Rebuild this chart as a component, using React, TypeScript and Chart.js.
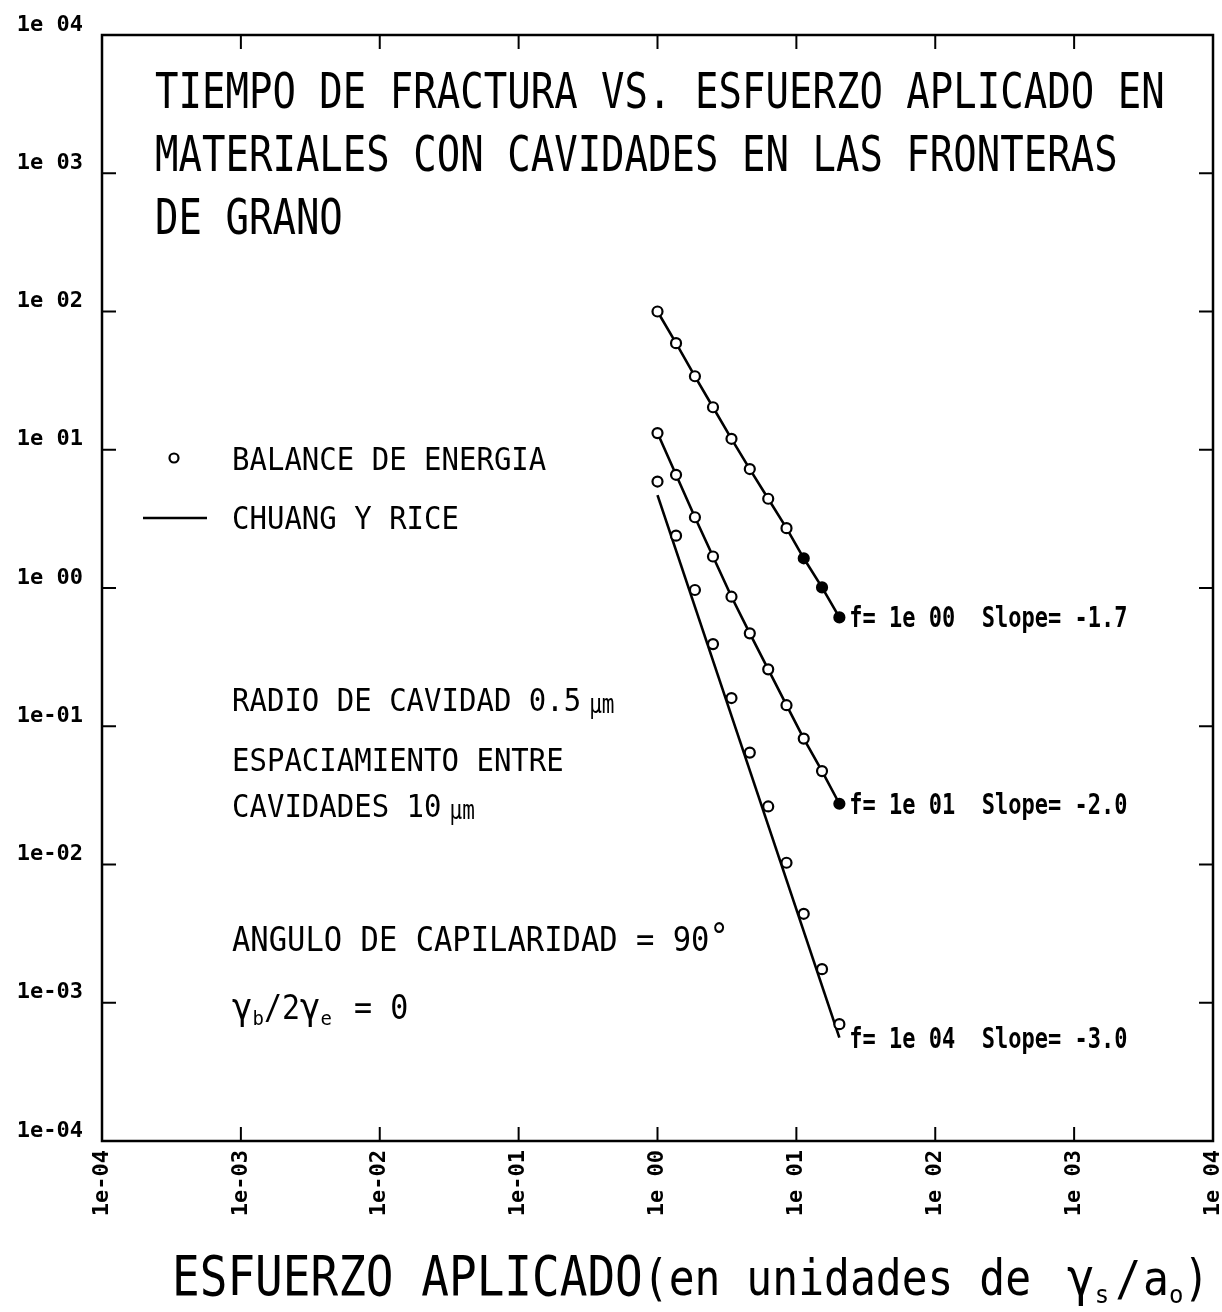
import React, { useEffect, useRef } from 'react';
import { Chart, registerables } from 'chart.js';

Chart.register(...registerables);

// ---------------- data ----------------
const xTickValues = [1e-4, 1e-3, 1e-2, 1e-1, 1, 1e1, 1e2, 1e3, 1e4];
const xTickLabels = ['1e-04', '1e-03', '1e-02', '1e-01', '1e 00', '1e 01', '1e 02', '1e 03', '1e 04'];
const yTickValues = [1e-4, 1e-3, 1e-2, 1e-1, 1, 1e1, 1e2, 1e3, 1e4];
const yTickLabels = ['1e-04', '1e-03', '1e-02', '1e-01', '1e 00', '1e 01', '1e 02', '1e 03', '1e 04'];

// applied stress (units of gamma_s / a_o)
const stress = [1.0, 1.36, 1.86, 2.51, 3.41, 4.62, 6.27, 8.49, 11.3, 15.3, 20.4];

// BALANCE DE ENERGIA (circles): fracture time
const energyBalanceF1 = [100, 59, 34, 20.3, 12.0, 7.25, 4.42, 2.71, 1.64, 1.01, 0.613];
const energyBalanceF10 = [13.2, 6.59, 3.25, 1.69, 0.865, 0.47, 0.258, 0.142, 0.0814, 0.0474, 0.0275];
const energyBalanceF1e4 = [5.89, 2.39, 0.967, 0.393, 0.16, 0.0645, 0.0263, 0.0103, 0.0044, 0.00175, 0.0007];

// CHUANG Y RICE (lines)
const chuangRiceStressF1 = [1.0, 1.36, 1.86, 2.51, 3.41, 4.62, 6.27, 8.49, 11.3, 15.3, 20.4];
const chuangRiceF1 = [100, 59, 34, 20.3, 12.0, 7.25, 4.42, 2.71, 1.64, 1.01, 0.613];
const chuangRiceStressF10 = [1.0, 1.36, 1.86, 2.51, 3.41, 4.62, 6.27, 8.49, 11.3, 15.3, 20.4];
const chuangRiceF10 = [13.2, 6.59, 3.25, 1.69, 0.865, 0.47, 0.258, 0.142, 0.0814, 0.0474, 0.0275];
const chuangRiceStressF1e4 = [1.0, 20.4];
const chuangRiceF1e4 = [4.7, 0.00056];

const seriesF = ['1e 00', '1e 01', '1e 04'];
const seriesSlope = ['-1.7', '-2.0', '-3.0'];

const titleLines = [
  'TIEMPO DE FRACTURA VS. ESFUERZO APLICADO EN',
  'MATERIALES CON CAVIDADES EN LAS FRONTERAS',
  'DE GRANO',
];

// ---------------- layout / style ----------------
const W = 1222;
const H = 1312;
const AREA = { left: 102, top: 35, right: 1213, bottom: 1141 };
const MONO = '"DejaVu Sans Mono", monospace';
const TICK = 14;

type Seg = { t: string; size: number; bold?: boolean; sy?: number; dy?: number; gap?: number };

function drawSegs(ctx: CanvasRenderingContext2D, x: number, baseY: number, segs: Seg[]) {
  let cx = x;
  for (const s of segs) {
    ctx.save();
    ctx.font = `${s.bold ? 'bold ' : ''}${s.size}px ${MONO}`;
    ctx.textAlign = 'left';
    ctx.textBaseline = 'alphabetic';
    const g = s.gap || 0;
    ctx.translate(cx + g, baseY + (s.dy || 0));
    ctx.scale(1, s.sy ?? 1);
    ctx.fillText(s.t, 0, 0);
    const w = ctx.measureText(s.t).width;
    ctx.restore();
    cx += g + w;
  }
}

const pts = (xs: number[], ys: number[]) => xs.map((x, i) => ({ x, y: ys[i] }));

const annotPlugin = {
  id: 'annot',
  afterDraw(chart: any) {
    const { ctx, chartArea: ca, scales } = chart;
    const xs = scales.x;
    const ys = scales.y;
    ctx.save();
    ctx.strokeStyle = '#000';
    ctx.fillStyle = '#000';

    // frame
    ctx.lineWidth = 2.5;
    ctx.strokeRect(ca.left, ca.top, ca.right - ca.left, ca.bottom - ca.top);

    // inward ticks
    ctx.lineWidth = 2;
    const seg = (x1: number, y1: number, x2: number, y2: number) => {
      ctx.beginPath();
      ctx.moveTo(x1, y1);
      ctx.lineTo(x2, y2);
      ctx.stroke();
    };
    xTickValues.forEach((v) => {
      const px = xs.getPixelForValue(v);
      seg(px, ca.bottom, px, ca.bottom - TICK);
      seg(px, ca.top, px, ca.top + TICK);
    });
    yTickValues.forEach((v) => {
      const py = ys.getPixelForValue(v);
      seg(ca.left, py, ca.left + TICK, py);
      seg(ca.right, py, ca.right - TICK, py);
    });

    // title inside plot
    const titleBase = [108, 171, 234];
    titleLines.forEach((t, i) => drawSegs(ctx, 155, titleBase[i], [{ t, size: 39, sy: 1.27 }]));

    // legend
    ctx.lineWidth = 2.2;
    ctx.fillStyle = '#fff';
    ctx.beginPath();
    ctx.arc(174, 458, 4.5, 0, Math.PI * 2);
    ctx.fill();
    ctx.stroke();
    ctx.fillStyle = '#000';
    ctx.lineWidth = 2.6;
    seg(143, 518, 207, 518);
    drawSegs(ctx, 232, 470, [{ t: 'BALANCE DE ENERGIA', size: 29, sy: 1.1 }]);
    drawSegs(ctx, 232, 529, [{ t: 'CHUANG Y RICE', size: 29, sy: 1.1 }]);

    // parameter notes
    drawSegs(ctx, 232, 711, [
      { t: 'RADIO DE CAVIDAD 0.5', size: 29, sy: 1.1 },
      { t: 'µm', size: 21, sy: 1.25, gap: 8, dy: 2 },
    ]);
    drawSegs(ctx, 232, 771, [{ t: 'ESPACIAMIENTO ENTRE', size: 29, sy: 1.1 }]);
    drawSegs(ctx, 232, 817, [
      { t: 'CAVIDADES 10', size: 29, sy: 1.1 },
      { t: 'µm', size: 21, sy: 1.25, gap: 8, dy: 2 },
    ]);
    drawSegs(ctx, 232, 951, [
      { t: 'ANGULO DE CAPILARIDAD = 90', size: 30.5, sy: 1.08 },
      { t: '°', size: 32, sy: 1.1, dy: -3 },
    ]);
    drawSegs(ctx, 232, 1019, [
      { t: 'γ', size: 34, sy: 1.1 },
      { t: 'b', size: 19, dy: 6 },
      { t: '/2', size: 30, sy: 1.1 },
      { t: 'γ', size: 34, sy: 1.1 },
      { t: 'e', size: 19, dy: 6 },
      { t: ' = 0', size: 30, sy: 1.1, gap: 4 },
    ]);

    // series labels at the end of each line
    const ends = [
      [chuangRiceStressF1[chuangRiceStressF1.length - 1], chuangRiceF1[chuangRiceF1.length - 1]],
      [chuangRiceStressF10[chuangRiceStressF10.length - 1], chuangRiceF10[chuangRiceF10.length - 1]],
      [chuangRiceStressF1e4[chuangRiceStressF1e4.length - 1], chuangRiceF1e4[chuangRiceF1e4.length - 1]],
    ];
    ends.forEach(([ex, ey], i) => {
      const px = xs.getPixelForValue(ex);
      const py = ys.getPixelForValue(ey);
      drawSegs(ctx, px + 10, py + 10, [
        { t: `f= ${seriesF[i]}  Slope= ${seriesSlope[i]}`, size: 22, bold: true, sy: 1.3 },
      ]);
    });

    // x axis title
    drawSegs(ctx, 172, 1295, [
      { t: 'ESFUERZO APLICADO', size: 46, sy: 1.2 },
      { t: '(en unidades de ', size: 43, sy: 1.15 },
      { t: 'γ', size: 46, sy: 1.1, gap: 10 },
      { t: 's', size: 24, dy: 8 },
      { t: '/', size: 43, sy: 1.1, gap: 6 },
      { t: 'a', size: 43, sy: 1.1, gap: 2 },
      { t: 'o', size: 24, dy: 8 },
      { t: ')', size: 43, sy: 1.15 },
    ]);

    ctx.restore();
  },
};

const circleDs = (ys: number[], filledFrom: number) => ({
  label: 'BALANCE DE ENERGIA',
  data: pts(stress, ys),
  showLine: false,
  pointRadius: 5,
  pointHoverRadius: 5,
  pointBorderWidth: 2.2,
  borderColor: '#000',
  pointBorderColor: '#000',
  pointBackgroundColor: (c: any) => (c.dataIndex >= filledFrom ? '#000' : '#fff'),
  order: 0,
});

const lineDs = (xs: number[], ys: number[]) => ({
  label: 'CHUANG Y RICE',
  data: pts(xs, ys),
  showLine: true,
  pointRadius: 0,
  pointHoverRadius: 0,
  borderColor: '#000',
  borderWidth: 2.6,
  order: 1,
});

const tickFont = { family: MONO, size: 22, weight: 'bold' as const };

export default function App() {
  const ref = useRef<HTMLCanvasElement>(null);
  useEffect(() => {
    if (!ref.current) return;
    const chart = new Chart(ref.current, {
      type: 'scatter',
      data: {
        datasets: [
          circleDs(energyBalanceF1, 8),
          circleDs(energyBalanceF10, 10),
          circleDs(energyBalanceF1e4, 99),
          lineDs(chuangRiceStressF1, chuangRiceF1),
          lineDs(chuangRiceStressF10, chuangRiceF10),
          lineDs(chuangRiceStressF1e4, chuangRiceF1e4),
        ] as any,
      },
      options: {
        animation: false,
        responsive: false,
        maintainAspectRatio: false,
        layout: { padding: { left: 0, top: AREA.top, right: W - AREA.right, bottom: 0 } },
        plugins: { legend: { display: false }, tooltip: { enabled: false }, title: { display: false } },
        scales: {
          x: {
            type: 'logarithmic',
            min: 1e-4,
            max: 1e4,
            grid: { display: false, drawTicks: false },
            border: { display: false },
            afterBuildTicks: (s: any) => {
              s.ticks = xTickValues.map((v) => ({ value: v }));
            },
            afterFit: (s: any) => {
              s.height = H - AREA.bottom;
              s.paddingLeft = 0;
              s.paddingRight = 0;
            },
            ticks: {
              autoSkip: false,
              minRotation: 90,
              maxRotation: 90,
              padding: 9,
              color: '#000',
              font: tickFont,
              callback: (_v: any, i: number) => xTickLabels[i],
            },
          },
          y: {
            type: 'logarithmic',
            min: 1e-4,
            max: 1e4,
            grid: { display: false, drawTicks: false },
            border: { display: false },
            afterBuildTicks: (s: any) => {
              s.ticks = yTickValues.map((v) => ({ value: v }));
            },
            afterFit: (s: any) => {
              s.width = AREA.left;
              s.paddingTop = 0;
              s.paddingBottom = 0;
            },
            ticks: {
              autoSkip: false,
              padding: 19,
              labelOffset: -10,
              color: '#000',
              font: tickFont,
              callback: (_v: any, i: number) => yTickLabels[i],
            },
          },
        },
      } as any,
      plugins: [annotPlugin],
    });
    return () => chart.destroy();
  }, []);

  return (
    <div style={{ position: 'absolute', left: 0, top: 0, width: W, height: H, background: '#fff' }}>
      <canvas ref={ref} width={W} height={H} style={{ display: 'block', width: W, height: H }} />
    </div>
  );
}
